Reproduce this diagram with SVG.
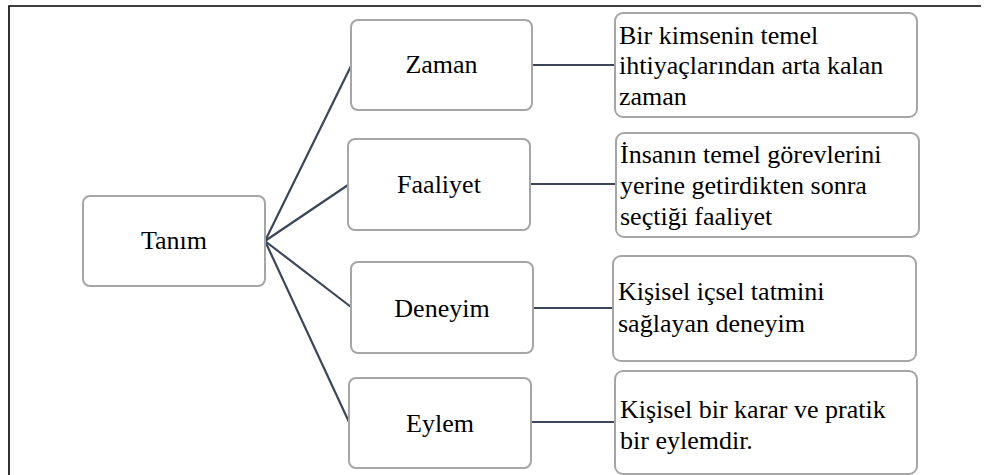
<svg xmlns="http://www.w3.org/2000/svg" width="986" height="475" viewBox="0 0 986 475">
<style>
.box{fill:#fff;stroke:#a6a6a6;stroke-width:2}
text{font-family:'Liberation Serif','DejaVu Serif',serif;font-size:26px;fill:#000}
.c{text-anchor:middle}
.ln{stroke:#3b4759;stroke-width:2.2;fill:none}
</style>
<rect width="986" height="475" fill="#fff"/>
<path d="M9 475 V6 H981" fill="none" stroke="#000" stroke-width="1.6"/>
<g id="connectors">
<path class="ln" d="M265 241 L351 66"/>
<path class="ln" d="M265 241 L348 185"/>
<path class="ln" d="M265 241 L351 307"/>
<path class="ln" d="M265 241 L349 422"/>
<path class="ln" d="M532 65 H615"/>
<path class="ln" d="M530 184 H616"/>
<path class="ln" d="M533 308 H613"/>
<path class="ln" d="M531 422 H615"/>
</g>
<g id="tanim"><rect class="box" x="83" y="196" width="182" height="90" rx="7"/><text class="c" font-family="Liberation Serif" x="174" y="249">Tanım</text></g>
<g id="zaman"><rect class="box" x="351" y="20" width="181" height="90" rx="7"/><text class="c" x="441.5" y="73">Zaman</text></g>
<g id="faaliyet"><rect class="box" x="348" y="139" width="182" height="91" rx="7"/><text class="c" x="439" y="193">Faaliyet</text></g>
<g id="deneyim"><rect class="box" x="351" y="262" width="182" height="91" rx="7"/><text class="c" x="442" y="317">Deneyim</text></g>
<g id="eylem"><rect class="box" x="349" y="378" width="182" height="90" rx="7"/><text class="c" x="440" y="432">Eylem</text></g>
<g id="def-zaman"><rect class="box" x="615" y="13" width="302" height="104" rx="8"/><text x="619"><tspan x="619" y="44">Bir kimsenin temel</tspan><tspan x="619" y="74">ihtiyaçlarından arta kalan</tspan><tspan x="619" y="105">zaman</tspan></text></g>
<g id="def-faaliyet"><rect class="box" x="616" y="133" width="303" height="104" rx="8"/><text x="620"><tspan x="620" y="163">İnsanın temel görevlerini</tspan><tspan x="620" y="194">yerine getirdikten sonra</tspan><tspan x="620" y="225">seçtiği faaliyet</tspan></text></g>
<g id="def-deneyim"><rect class="box" x="613" y="256" width="303" height="105" rx="8"/><text x="618"><tspan x="618" y="300">Kişisel içsel tatmini</tspan><tspan x="618" y="332">sağlayan deneyim</tspan></text></g>
<g id="def-eylem"><rect class="box" x="615" y="371" width="302" height="103" rx="8"/><text x="620"><tspan x="620" y="418">Kişisel bir karar ve pratik</tspan><tspan x="620" y="449">bir eylemdir.</tspan></text></g>
</svg>
